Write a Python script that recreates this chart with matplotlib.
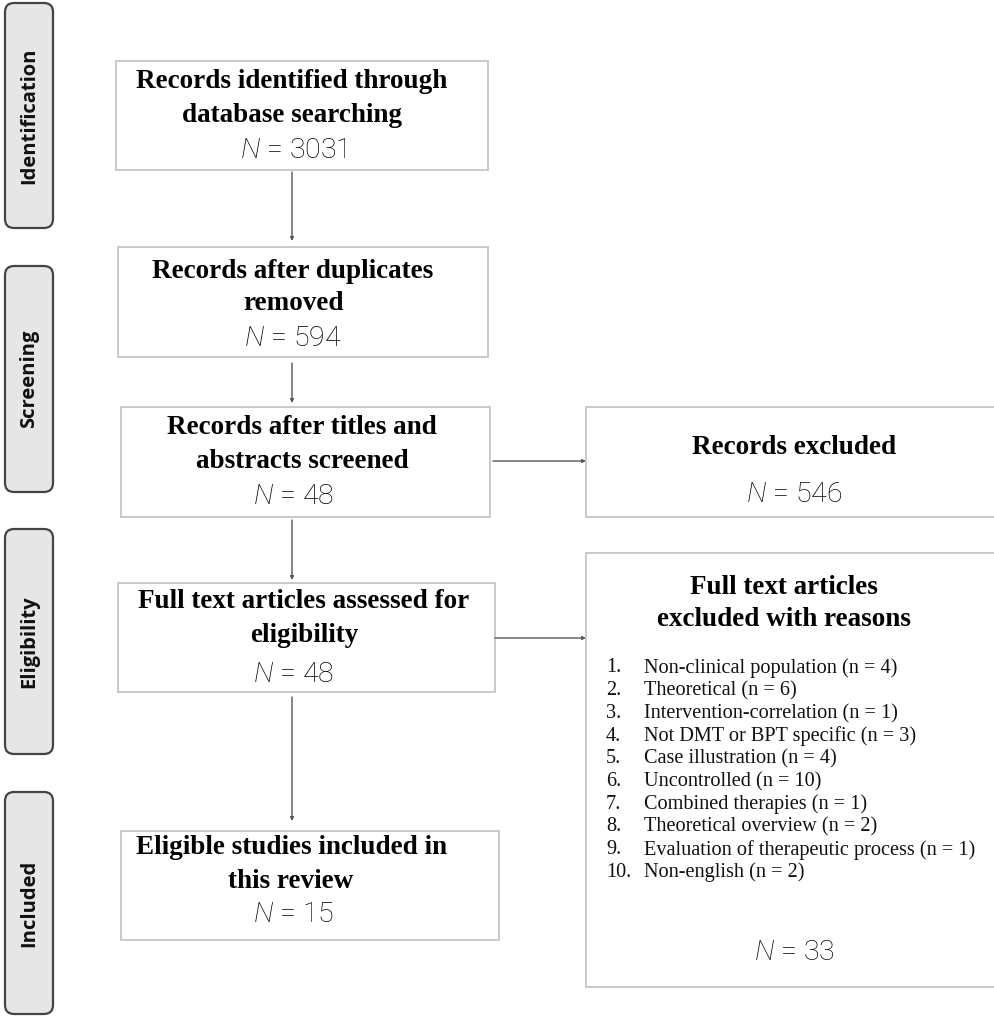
"""
PRISMA flow diagram of the study selection
"""

import matplotlib.pyplot as plt
from matplotlib.patches import Rectangle, FancyBboxPatch

# data
stages = ["Identification", "Screening", "Eligibility", "Included"]
flow_titles = ["Records identified through\ndatabase searching",
               "Records after duplicates\nremoved",
               "Records after titles and\nabstracts screened",
               "Full text articles assessed for\neligibility",
               "Eligible studies included in\nthis review"]
flow_counts = [3031, 594, 48, 48, 15]
excluded_title = "Records excluded"
excluded_count = 546
reasons_title = "Full text articles\nexcluded with reasons"
reasons = ["Non-clinical population", "Theoretical", "Intervention-correlation",
           "Not DMT or BPT specific", "Case illustration", "Uncontrolled",
           "Combined therapies", "Theoretical overview",
           "Evaluation of therapeutic process", "Non-english"]
reason_counts = [4, 6, 1, 3, 4, 10, 1, 2, 1, 2]
reasons_total = 33

# layout (pixels, y downwards)
stage_y = [(3, 228), (266, 492), (529, 754), (792, 1014)]
flow_boxes = [(116, 61, 488, 170), (118, 247, 488, 357), (121, 407, 490, 517),
              (118, 583, 495, 692), (121, 831, 499, 940)]
flow_text_y = [(81, 115, 150), (271, 304, 338), (427, 462, 497),
               (602, 635, 675), (848, 882, 915)]
title_x = [292, 293, 302, 304, 291]
arrow_x = 292

plt.rcParams['mathtext.fontset'] = 'custom'
plt.rcParams['mathtext.it'] = 'Roboto:italic:light'
plt.rcParams['mathtext.rm'] = 'Roboto:light'

fig = plt.figure(figsize=(9.94, 10.16), dpi=100)
ax = fig.add_axes([0, 0, 1, 1])
ax.set_xlim(0, 994)
ax.set_ylim(1016, 0)
ax.axis('off')

box_edge = '#c9c9c9'
serif_bold = dict(family='Liberation Serif', fontweight='bold', fontsize=19.5,
                  ha='center', va='center', color='black')
n_style = dict(family='Roboto', fontweight='light', fontsize=20.5,
               ha='center', va='center', color='black')


def n_label(value):
    return rf"$N$ = {value}"


# stage labels on the left
for name, (y0, y1) in zip(stages, stage_y):
    ax.add_patch(FancyBboxPatch((5, y0), 48, y1 - y0,
                                boxstyle="round,pad=0,rounding_size=9",
                                facecolor='#e6e6e6', edgecolor='#444444', lw=1.6))
    ax.text(29, (y0 + y1) / 2, name, rotation=90, ha='center', va='center',
            family='Open Sans', fontweight='bold', fontsize=14.5, color='#111111')

# main flow boxes
for i, (title, count) in enumerate(zip(flow_titles, flow_counts)):
    x0, y0, x1, y1 = flow_boxes[i]
    ax.add_patch(Rectangle((x0, y0), x1 - x0, y1 - y0, facecolor='white',
                           edgecolor=box_edge, lw=1.4))
    line1, line2 = title.split("\n")
    ty = flow_text_y[i]
    ax.text(title_x[i], ty[0], line1, **serif_bold)
    ax.text(title_x[i], ty[1], line2, **serif_bold)
    ax.text(293, ty[2], n_label(count), **n_style)

# vertical arrows between flow boxes
arrow_spans = [(172, 241), (363, 403), (520, 580), (697, 821)]
for ya, yb in arrow_spans:
    ax.annotate("", xy=(arrow_x, yb), xytext=(arrow_x, ya),
                arrowprops=dict(arrowstyle='-|>', color='#555555', lw=1.0,
                                mutation_scale=5, shrinkA=0, shrinkB=0))

# excluded boxes on the right (open on the right side)
for y0, y1 in [(407, 517), (553, 987)]:
    ax.plot([1000, 586, 586, 1000], [y0, y0, y1, y1], color=box_edge, lw=1.4)

for xa, y in [(493, 461), (495, 638)]:
    ax.annotate("", xy=(586, y), xytext=(xa, y),
                arrowprops=dict(arrowstyle='-|>', color='#555555', lw=1.0,
                                mutation_scale=5, shrinkA=0, shrinkB=0))

ax.text(794, 447, excluded_title, **serif_bold)
ax.text(794, 495, n_label(excluded_count), **n_style)

t1, t2 = reasons_title.split("\n")
ax.text(784, 587, t1, **serif_bold)
ax.text(784, 620, t2, **serif_bold)

for k, (reason, n) in enumerate(zip(reasons, reason_counts)):
    y = 668 + k * 22.7
    ax.text(606, y, f"{k + 1}.", family='Liberation Serif', fontsize=14.6,
            ha='left', va='center', color='#111111')
    ax.text(644, y, f"{reason} (n = {n})", family='Liberation Serif', fontsize=14.6,
            ha='left', va='center', color='#111111')

ax.text(794, 952, n_label(reasons_total), **n_style)

fig.savefig("out.png", dpi=100)
